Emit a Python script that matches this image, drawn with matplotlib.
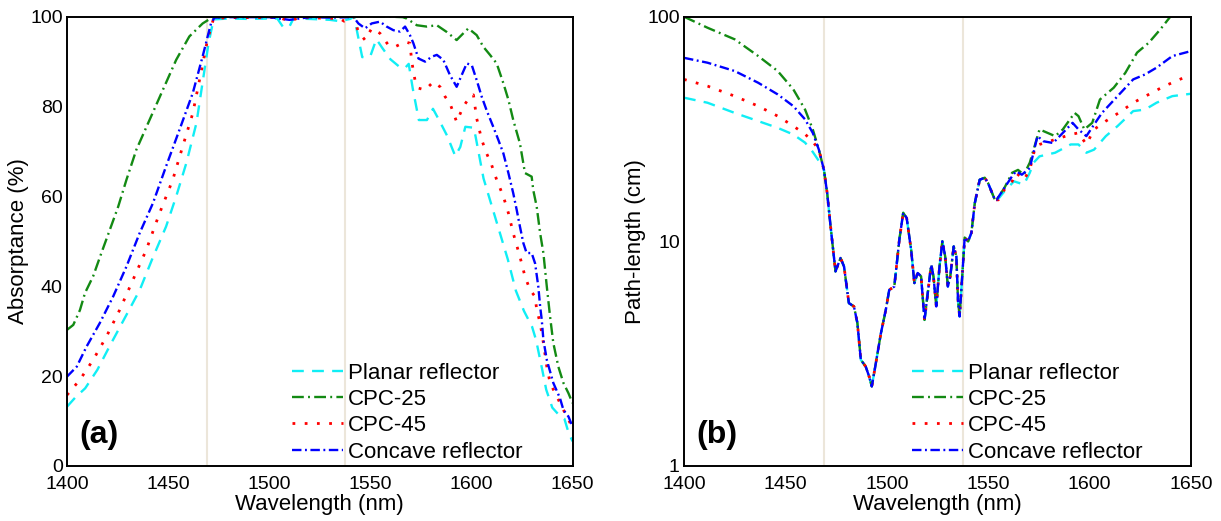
import numpy as np
import matplotlib
matplotlib.use("Agg")
import matplotlib.pyplot as plt
from matplotlib.ticker import FixedLocator, FixedFormatter, NullLocator

plt.rcParams['font.family'] = ['Liberation Sans', 'DejaVu Sans']

labels = ["Planar reflector", "CPC-25", "CPC-45", "Concave reflector"]
colors = ["#10eef5", "#138a13", "#ff0000", "#0000ff"]
styles = [(0, (5.0, 3.5)), (0, (5.0, 1.8, 0.8, 1.8)), (0, (1.0, 3.4)), (0, (4.0, 1.5, 0.8, 1.5))]
widths = [1.7, 1.7, 2.0, 1.7]
band_edges = [1469, 1537.5]

# ---------- (a) Absorptance (%) ----------
wl_planar_a = [1400, 1404, 1409, 1415, 1421, 1429, 1436, 1442, 1449, 1454, 1459, 1464, 1467, 1470, 1472.5,
               1480, 1490, 1500, 1504, 1507, 1510, 1512, 1520, 1530, 1535, 1540, 1542, 1546, 1550, 1553,
               1556, 1560, 1564, 1567, 1569, 1571, 1574, 1578, 1581, 1584, 1588, 1592, 1594.5, 1597, 1601,
               1602, 1606, 1610, 1614, 1618, 1622, 1626, 1630, 1632, 1635, 1637, 1640, 1643, 1646, 1648, 1650]
ab_planar = [13.2, 15.2, 17.3, 21.4, 26.6, 33.3, 39.2, 45.9, 53.3, 60, 67.4, 76.3, 85.2, 94.1, 99.4,
             99.6, 99.5, 99.6, 99.6, 97.6, 97.8, 99.6, 99.5, 99.3, 99.0, 99.5, 100, 91, 91.2, 95,
             93, 90.5, 89, 88.5, 89.5, 84, 77, 77, 79.5, 77, 73.5, 69, 71, 75.5, 75.3,
             73.5, 64, 58, 52, 46, 39, 34.5, 31, 28, 21.5, 17, 13, 11.5, 10.5, 7.5, 5.5]

wl_cpc25_a = [1400, 1403.1, 1406.4, 1408.9, 1412.9, 1417, 1421.2, 1425.3, 1429.4, 1434.3, 1440.8, 1447.4,
              1454, 1460.5, 1467.1, 1471.7, 1480, 1500, 1520, 1540, 1560, 1566, 1568, 1573, 1577.9,
              1582.9, 1587.8, 1592.7, 1596, 1598.5, 1602.6, 1605.9, 1609.2, 1612.5, 1615.8, 1618.3,
              1620.7, 1624, 1626.5, 1629.8, 1630.6, 1632.3, 1634, 1635.6, 1637.3, 1638.9, 1640.5,
              1643, 1645.5, 1648, 1650]
ab_cpc25 = [30.3, 31.4, 34.7, 38.5, 42.2, 47.4, 52.6, 57.7, 63.7, 70.4, 77, 83.7,
            90.4, 95.6, 98.5, 99.8, 100, 100, 100, 100, 100, 99.9, 99.6, 98.1, 97.8,
            98.1, 96.6, 94.8, 96.3, 97.4, 95.9, 93.3, 91.5, 89.6, 85.2, 81.5,
            77, 71.8, 65.2, 64.4, 61.4, 57.7, 51.8, 47.4, 39.9, 33.3, 27.4,
            22.1, 18.5, 16.2, 14]

wl_cpc45_a = [1400, 1406.4, 1412.9, 1419.5, 1426, 1432.6, 1439.2, 1445.8, 1452.3, 1457.2, 1462.2, 1466.2,
              1469.5, 1472.5, 1480, 1490, 1500, 1505, 1510, 1515, 1525, 1535, 1537, 1540, 1542, 1544,
              1547.4, 1550.7, 1554.8, 1558.9, 1562.2, 1567.2, 1569.6, 1570.5, 1572.1, 1573.8, 1577.1,
              1581.2, 1584.5, 1587, 1589.4, 1592.7, 1596, 1599.3, 1601, 1601.8, 1602.6, 1605.1, 1607.5,
              1610, 1612.5, 1615.8, 1618.3, 1620.7, 1624, 1626.5, 1629, 1631.5, 1632.3, 1634, 1635.6,
              1637.3, 1638.9, 1642.2, 1645.5, 1648.8, 1650]
ab_cpc45 = [15.8, 19.2, 23.6, 28.8, 34.7, 41.4, 48.1, 56.3, 63.7, 71.1, 78.5, 87.4,
            94.9, 99.6, 99.8, 99.8, 99.8, 99.8, 99.0, 99.8, 99.7, 99.6, 99.0, 99.6, 100, 96.7,
            94.8, 97.4, 96.3, 93.7, 93.3, 94.4, 94.1, 90, 85.9, 84.1, 83.7,
            85.5, 84.4, 82.2, 80.7, 76.6, 80, 82.2, 82.6, 80, 77.4, 72.6, 69.6,
            67, 63.7, 60, 56.3, 51.8, 46.6, 42.2, 39.2, 37.7, 34.8, 31.8, 27.4,
            22.1, 18.5, 15.5, 12.5, 9.6, 8.1]

wl_concave_a = [1400, 1404.8, 1409.7, 1416.2, 1422.8, 1429.4, 1435.9, 1442.5, 1449, 1455.6, 1462.2, 1467.1,
                1471.2, 1473, 1480, 1490, 1500, 1510, 1520, 1530, 1540, 1541.6, 1544.1, 1547.4, 1550.7,
                1554.8, 1558.1, 1561.4, 1564.7, 1567.2, 1569.6, 1571.3, 1573.8, 1577.1, 1580.4, 1582.9,
                1586.1, 1589.4, 1592.7, 1595.2, 1597.7, 1600.2, 1602.6, 1605.1, 1607.5, 1610.8, 1613.3,
                1615.8, 1618.3, 1620.7, 1622.4, 1624, 1625.7, 1627.3, 1629.8, 1631.5, 1633.1, 1634,
                1634.8, 1635.6, 1637.3, 1640.5, 1643.8, 1645.5, 1648, 1650]
ab_concave = [19.9, 22.1, 26.6, 31.8, 37.7, 44.4, 51.8, 58.5, 66.7, 74.8, 83, 91.2,
              98.5, 99.8, 99.9, 99.9, 99.9, 99.3, 99.9, 99.8, 99.9, 100, 98.5, 97.4, 98.5,
              98.9, 97.8, 97, 96.7, 97.8, 95.9, 94.1, 90.7, 90, 91.1, 91.5,
              90.4, 87, 84.4, 87, 89.6, 89.2, 85.9, 82.2, 79.2, 75.5, 72.6,
              69.6, 65.2, 60.7, 57, 53.3, 49.6, 47.4, 47.4, 45.1, 39.9, 35.5,
              32.5, 28.1, 23.6, 18.5, 15.1, 12.5, 11, 8.8]

# ---------- (b) Path-length (cm) ----------
wl_core_b = [1469, 1470.6, 1472.3, 1473.9, 1474.7, 1477.2, 1478.9, 1481.3, 1483.8, 1485.5, 1487.2, 1489.6,
             1491.3, 1492.6, 1494.6, 1497.1, 1499.5, 1501.2, 1503.7, 1506.2, 1508.1, 1509.8, 1512, 1513.6,
             1515.2, 1516.9, 1518.6, 1520.2, 1521.9, 1523, 1524.4, 1526, 1527.4, 1528.8, 1530.1, 1531.3,
             1533, 1534.3, 1535.1, 1535.9, 1537.5, 1538.4, 1540.1, 1541.7, 1543.4, 1545.8, 1548.3,
             1549.9, 1553.3]
pl_core = [20.8, 16.4, 11.6, 8.57, 7.35, 8.43, 7.73, 5.31, 5.13, 4.33, 2.97, 2.77,
           2.50, 2.26, 2.87, 3.90, 4.95, 6.08, 6.29, 10.2, 13.4, 12.7, 9.18, 6.52,
           7.23, 6.99, 4.47, 5.89, 7.87, 6.99, 5.13, 7.73, 10.0, 8.57, 6.29, 6.99,
           9.49, 8.57, 5.50, 4.63, 7.73, 10.4, 10.0, 10.9, 14.8, 18.8, 19.2,
           18.2, 15.3]

wl_left_b = [1400, 1411.6, 1425, 1436.6, 1446.2, 1453.9, 1459.7, 1463.5, 1466.5]
pl_planar_left = [43.6, 41.4, 37.3, 34.3, 32.0, 29.9, 27.5, 25.0, 22.8]
pl_cpc25_left = [100, 89.3, 79.3, 66.8, 57.3, 47.5, 38.6, 31.5, 25.6]
pl_cpc45_left = [52.6, 49.1, 44.3, 40.0, 36.1, 32.6, 30.0, 27.8, 25.6]
pl_concave_left = [65.6, 62.4, 57.3, 50.8, 45.1, 40.0, 34.9, 30.4, 25.6]

wl_planar_right = [1554.1, 1558, 1562.7, 1567.6, 1570.5, 1572.4, 1575.3, 1583, 1590.7, 1594.5, 1598.4,
                   1602.2, 1608, 1613.8, 1621.5, 1627.3, 1633, 1640.8, 1650]
pl_planar_right = [15.1, 16.7, 18.5, 17.9, 20.2, 22.4, 23.9, 24.8, 27, 27, 24.8,
                   25.6, 29.4, 32.6, 38, 38.6, 41.4, 44.3, 45.4]
wl_cpc25_right = [1554.1, 1558, 1561.8, 1564.7, 1567.6, 1570.5, 1575.3, 1583, 1586.8, 1592.6, 1594.5,
                  1597.4, 1601.3, 1605.1, 1611.9, 1617.6, 1623.4, 1629.2, 1634.9, 1639.8, 1645, 1650]
pl_cpc25_right = [15.3, 17.3, 20.2, 20.8, 19.8, 22.4, 31.5, 29.4, 31.5, 37.3, 36.1,
                  31.5, 33.7, 42.8, 48.3, 56.2, 69.2, 76.6, 87.9, 100, 118, 135]
wl_cpc45_right = [1555, 1558, 1561.8, 1563.7, 1567.6, 1570.5, 1573.3, 1575.3, 1583, 1590.7, 1594.5,
                  1598.4, 1602.2, 1608, 1615.7, 1621.5, 1629.2, 1636.9, 1650]
pl_cpc45_right = [15.3, 17, 18.5, 20.2, 18.8, 20.8, 26.5, 27, 28.4, 29.9, 30.4,
                  27, 31.5, 34.3, 38, 41.4, 45.1, 49.1, 55.3]
wl_concave_right = [1554.1, 1558, 1561.8, 1563.7, 1566.6, 1570.5, 1574.3, 1577.2, 1582, 1586.8, 1591.6,
                    1594.5, 1598.4, 1602.2, 1606.1, 1613.8, 1621.5, 1627.3, 1633, 1640.8, 1650]
pl_concave_right = [15.3, 17.3, 19.5, 20.5, 19.8, 21.2, 29.4, 27.9, 27.4, 30.4, 33.7,
                    31.5, 29.4, 33.1, 37.3, 44.3, 52.6, 55.3, 59.3, 66.8, 70.3]

# ---------- figure ----------
W, H = 1221, 521
fig = plt.figure(figsize=(W / 100, H / 100), dpi=100)
axa = fig.add_axes([67 / W, 55 / H, 505.5 / W, 449.3 / H])
axb = fig.add_axes([684 / W, 55 / H, 507 / W, 449.3 / H])

series_a = [(wl_planar_a, ab_planar), (wl_cpc25_a, ab_cpc25), (wl_cpc45_a, ab_cpc45), (wl_concave_a, ab_concave)]
lefts = [pl_planar_left, pl_cpc25_left, pl_cpc45_left, pl_concave_left]
rights = [(wl_planar_right, pl_planar_right), (wl_cpc25_right, pl_cpc25_right),
          (wl_cpc45_right, pl_cpc45_right), (wl_concave_right, pl_concave_right)]

for ax in (axa, axb):
    for x in band_edges:
        ax.axvline(x, color="#ece6da", lw=1.5, zorder=0)

for (wl, v), lab, c, ls, lw in zip(series_a, labels, colors, styles, widths):
    axa.plot(wl, v, color=c, ls=ls, lw=lw, label=lab)

for left, (wr, vr), lab, c, ls, lw in zip(lefts, rights, labels, colors, styles, widths):
    wl = list(wl_left_b) + list(wl_core_b) + list(wr)
    v = list(left) + list(pl_core) + list(vr)
    axb.plot(wl, v, color=c, ls=ls, lw=lw, label=lab)

axa.set_xlim(1400, 1650)
axa.set_ylim(0, 100)
axa.set_xticks([1400, 1450, 1500, 1550, 1600, 1650])
axa.set_yticks([0, 20, 40, 60, 80, 100])
axa.set_ylabel("Absorptance (%)", fontsize=16, labelpad=1)

axb.set_xlim(1400, 1650)
axb.set_yscale("log")
axb.set_ylim(1, 100)
axb.set_xticks([1400, 1450, 1500, 1550, 1600, 1650])
axb.yaxis.set_major_locator(FixedLocator([1, 10, 100]))
axb.yaxis.set_major_formatter(FixedFormatter(["1", "10", "100"]))
axb.yaxis.set_minor_locator(NullLocator())
axb.set_ylabel("Path-length (cm)", fontsize=16, labelpad=1)

legend_x = {axa: (291.7 - 67) / 505.5, axb: (911.6 - 684) / 507}
for ax, tag in ((axa, "(a)"), (axb, "(b)")):
    ax.set_xlabel("Wavelength (nm)", fontsize=16, labelpad=1)
    ax.tick_params(axis="x", which="both", length=0, labelsize=14, pad=7)
    ax.tick_params(axis="y", which="both", length=0, labelsize=14, pad=3)
    for s in ax.spines.values():
        s.set_linewidth(1.4)
        s.set_color("black")
    ax.text(0.025, 0.069, tag, transform=ax.transAxes, fontsize=23, fontweight="bold",
            ha="left", va="center")
    ax.legend(loc="center left", bbox_to_anchor=(legend_x[ax], 0.119), frameon=False, fontsize=16,
              handlelength=2.32, handletextpad=0.23, labelspacing=0.24, borderpad=0.0,
              borderaxespad=0.0)

fig.savefig("out.png", dpi=100)
